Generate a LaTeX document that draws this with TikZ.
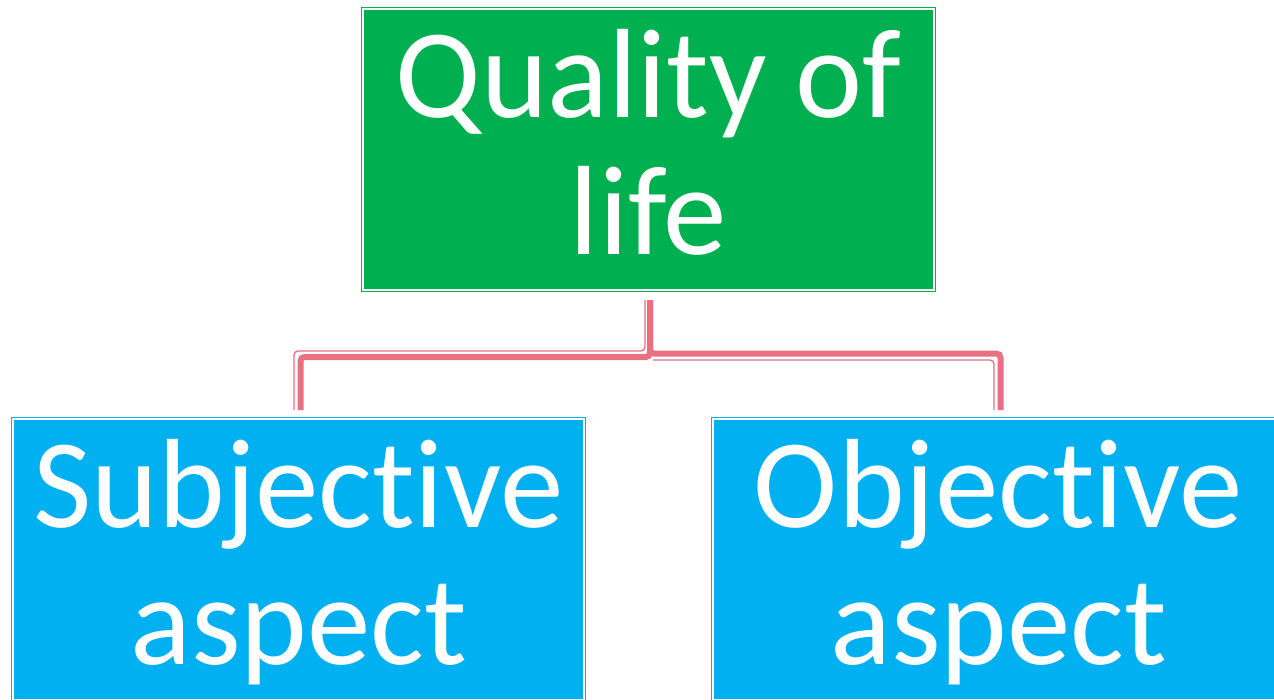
\documentclass[tikz,border=0pt]{standalone}
\usepackage{fontspec}
\setmainfont{Carlito}[Ligatures = NoCommon]
\usetikzlibrary{positioning}
\definecolor{qolgreen}{RGB}{0,176,80}
\definecolor{aspectblue}{RGB}{0,176,240}
\definecolor{linkpink}{RGB}{232,112,128}
\newcommand\hiStrut{\rule{0pt}{105pt}}
\newcommand\loStrut{\rule[-32.5pt]{0pt}{32.5pt}}

\begin{document}
\begin{tikzpicture}[x = 1pt, y = 1pt,
		box/.style = {rectangle, line width = 1pt, double = white, double distance = 2pt,
			minimum width = 571pt, minimum height = 281pt, inner sep = 0pt, outer sep = 0pt,
			align = center, text = white, font = \fontsize{127}{137.5}\selectfont},
		greenbox/.style = {box, draw = qolgreen, fill = qolgreen},
		bluebox/.style = {box, draw = aspectblue, fill = aspectblue},
		thickLink/.style = {draw = linkpink, line width = 6pt, rounded corners = 4pt},
		thinLink/.style = {draw = linkpink, line width = 1.4pt, rounded corners = 4pt}]
		\useasboundingbox (0,0) rectangle (1274,-699);
		\node [greenbox] (qol) at (648.5,-149.5) {\hiStrut Quality of\\ life\loStrut};
		\node [bluebox] (subj) at (298.5,-559.5) {\hiStrut Subjective\\ aspect\loStrut};
		\node [bluebox] (obj) at (998.5,-559.5) {\hiStrut Objective\\ aspect\loStrut};
		\draw [thinLink] ([xshift = -3.5pt, yshift = -10pt]qol.south) -- ++(0,-51) -| ([xshift = -4.5pt, yshift = 9pt]subj.north);
		\draw [thinLink] ([xshift = 4.5pt, yshift = -70pt]qol.south) -| ([xshift = -4.5pt, yshift = 9pt]obj.north);
		\draw [thickLink] ([xshift = 1.5pt, yshift = -10pt]qol.south) -- ++(0,-57) -| ([xshift = 2pt, yshift = 9pt]subj.north);
		\draw [thickLink] ([xshift = 1.5pt, yshift = -10pt]qol.south) -- ++(0,-53.5) -| ([xshift = 2pt, yshift = 9pt]obj.north);
	\end{tikzpicture}
\end{document}
